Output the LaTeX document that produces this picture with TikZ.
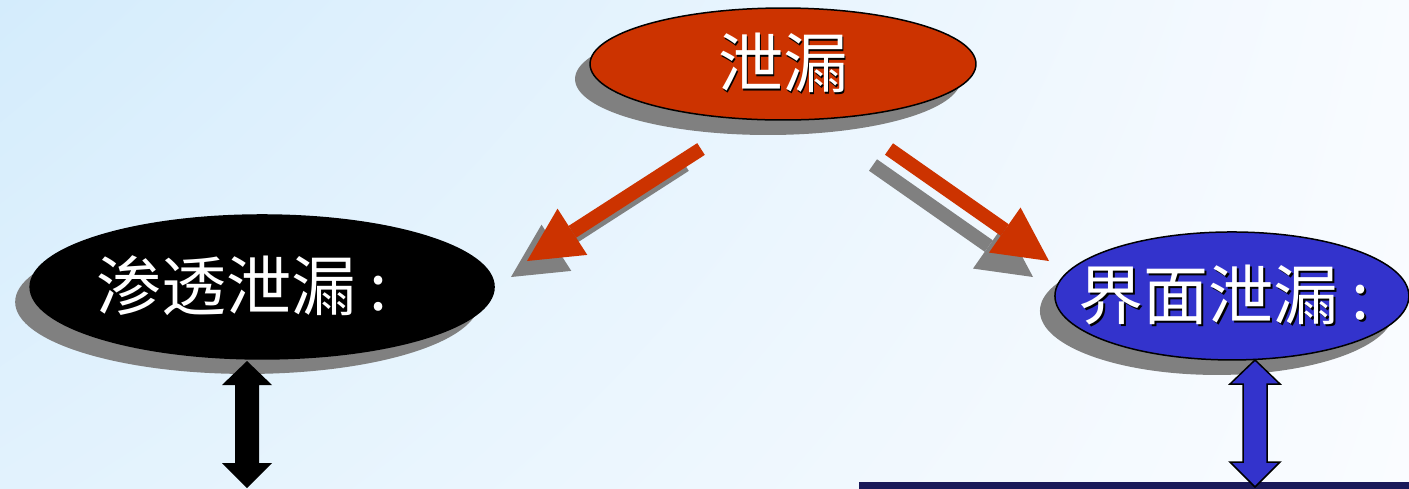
\documentclass[tikz,border=0pt]{standalone}
\usepackage{fontspec}
\newfontfamily\cjk{Noto Sans CJK SC}
\usetikzlibrary{
  shapes.geometric,
  shadows,
  shadings,
  arrows.meta,
  positioning
}
\definecolor{leakred}{HTML}{CC3300}
\definecolor{leakblue}{HTML}{3333CC}
\definecolor{shadowgray}{HTML}{808080}
\definecolor{navybar}{HTML}{191959}
\definecolor{bgtl}{HTML}{D4ECFC}
\definecolor{bgtr}{HTML}{F8FBFF}
\definecolor{bgbl}{HTML}{E2F2FD}
\definecolor{bgbr}{HTML}{FAFCFF}

\newcommand{\shadowtext}[1]{\makebox[0pt]{\rlap{\hspace{0.035cm}\raisebox{-0.035cm}{\color{black}#1}}\textcolor{white}{#1}}}

\tikzset{
  updown/.pic = {
    \path[pic actions] (0,0) -- (25,24) -- (12,24) -- (12,102) -- (25,102)
      -- (0,127) -- (-25,102) -- (-12,102) -- (-12,24) -- (-25,24) -- cycle;
  }
}

\begin{document}
\begin{tikzpicture}[x=0.02cm, y=-0.02cm, node distance = 1cm, on grid,
    leak/.style = {ellipse, draw=black, line width=0.03cm, inner sep=0pt,
      font=\cjk\fontsize{37}{44}\selectfont,
      drop shadow={shadow xshift=-0.3cm, shadow yshift=-0.3cm,
        fill=shadowgray, opacity=1}},
    bigarrow/.style = {line width=0.28cm,
      -{Triangle[length=1.08cm, width=1.1cm, line width=0pt]}}]
    \useasboundingbox (0,0) rectangle (1409,488);
    \shade[upper left=bgtl, upper right=bgtr, lower left=bgbl, lower right=bgbr]
      (0,0) rectangle (1409,488);

    \node[leak, fill=leakred, minimum width=7.72cm, minimum height=2.24cm]
      (top) at (783,64) {\shadowtext{泄漏}};
    \node[leak, fill=black, minimum width=9.28cm, minimum height=2.88cm,
      below left = 4.46cm and 10.42cm of top] (seep)
      {\shadowtext{渗透泄漏\hspace{0.2em}:}\hspace*{0.8cm}};
    \node[leak, fill=leakblue, minimum width=7.08cm, minimum height=2.56cm,
      below right = 4.64cm and 8.98cm of top] (face)
      {\shadowtext{界面泄漏\hspace{0.2em}:}\hspace*{0.3cm}};

    \coordinate (l-from) at (701,149);
    \coordinate (l-to) at (527,261);
    \coordinate (r-from) at (889,149);
    \coordinate (r-to) at (1049,261);

    \draw[bigarrow, shadowgray, transform canvas={xshift=-0.32cm, yshift=-0.32cm}]
      (l-from) -- (l-to);
    \draw[bigarrow, shadowgray, transform canvas={xshift=-0.32cm, yshift=-0.32cm}]
      (r-from) -- (r-to);
    \draw[bigarrow, leakred] (l-from) -- (l-to);
    \draw[bigarrow, leakred] (r-from) -- (r-to);

    \fill[navybar] (859,482) rectangle (1409,490);

    \pic[fill=black] at (247,361) {updown};
    \pic[fill=leakblue, draw=black, line width=0.03cm] at (1255,360) {updown};
  \end{tikzpicture}
\end{document}
